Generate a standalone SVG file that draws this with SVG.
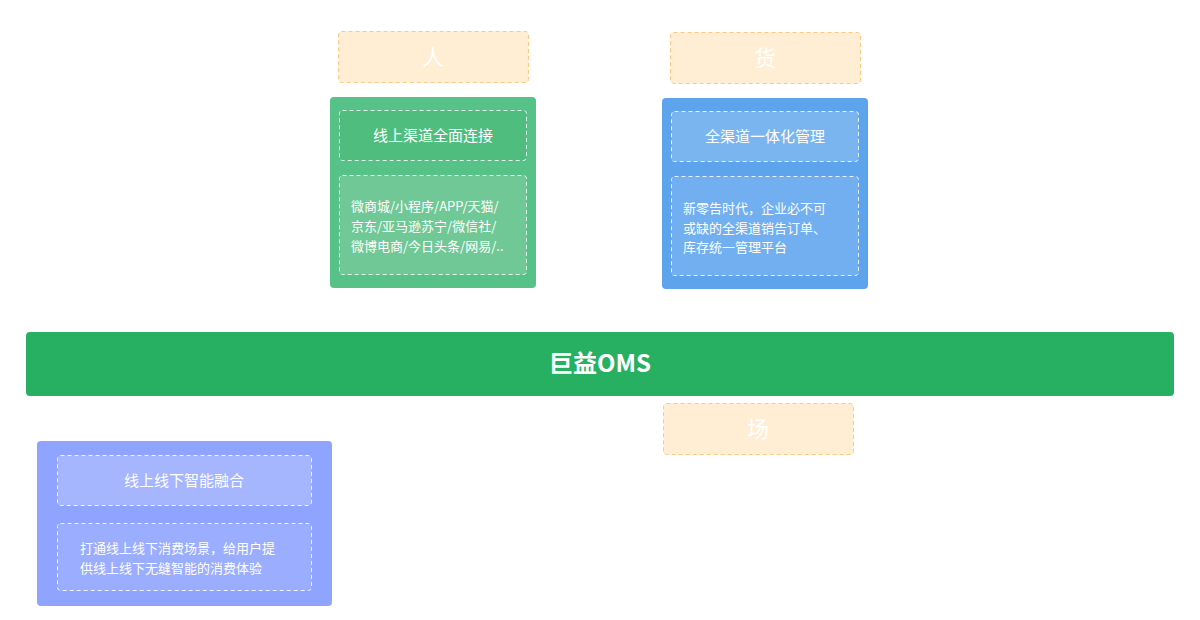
<svg xmlns="http://www.w3.org/2000/svg" width="1200" height="620" viewBox="0 0 1200 620">
<style>
text{font-family:"Noto Sans CJK SC","Liberation Sans",sans-serif;fill:#fff;}
.tag{fill:#ffedd4;stroke:#ffc880;stroke-dasharray:4 3;stroke-width:1}
.in{stroke:#fff;stroke-opacity:.85;stroke-dasharray:4 3;stroke-width:1}
.t{font-size:22px;text-anchor:middle}
.h{font-size:15px;text-anchor:middle}
.d{font-size:13px}
</style>
<rect width="1200" height="620" fill="#fff"/>
<g id="tag-ren"><rect class="tag" x="338.5" y="31.5" width="190" height="51" rx="3"/><text class="t" x="433" y="65">人</text></g>
<g id="tag-huo"><rect class="tag" x="670.5" y="32.5" width="190" height="51" rx="3"/><text class="t" x="765" y="66">货</text></g>
<g id="tag-chang"><rect class="tag" x="663.5" y="403.5" width="190" height="51" rx="3"/><text class="t" x="758" y="437">场</text></g>
<g id="card-ren">
<rect x="330" y="97" width="206" height="191" rx="4" fill="#57c287"/>
<rect class="in" x="339.5" y="110.5" width="187" height="50" rx="3" fill="#4fbd7e"/>
<text class="h" x="433" y="141">线上渠道全面连接</text>
<rect class="in" x="339.5" y="175.5" width="187" height="99" rx="3" fill="#70c896"/>
<text class="d" x="351" y="211">微商城/小程序/APP/天猫/</text>
<text class="d" x="351" y="231">京东/亚马逊苏宁/微信社/</text>
<text class="d" x="351" y="251">微博电商/今日头条/网易/..</text>
</g>
<g id="card-huo">
<rect x="662" y="98" width="206" height="191" rx="4" fill="#5ea4ec"/>
<rect class="in" x="671.5" y="111.5" width="187" height="50" rx="3" fill="#7bb5f0"/>
<text class="h" x="765" y="142">全渠道一体化管理</text>
<rect class="in" x="671.5" y="176.5" width="187" height="99" rx="3" fill="#72aff0"/>
<text class="d" x="683" y="213">新零告时代，企业必不可</text>
<text class="d" x="683" y="233">或缺的全渠道销告订单、</text>
<text class="d" x="683" y="252">库存统一管理平台</text>
</g>
<g id="oms">
<rect x="26" y="332" width="1148" height="64" rx="4" fill="#28b062"/>
<text x="600" y="372" font-size="24" font-weight="bold" text-anchor="middle">巨益OMS</text>
</g>
<g id="card-chang">
<rect x="37" y="441" width="295" height="165" rx="4" fill="#8fa4fe"/>
<rect class="in" x="57.5" y="455.5" width="254" height="50" rx="3" fill="#a5b5fe"/>
<text class="h" x="184" y="486">线上线下智能融合</text>
<rect class="in" x="57.5" y="523.5" width="254" height="67" rx="3" fill="#9badfe"/>
<text class="d" x="80" y="553">打通线上线下消费场景，给用户提</text>
<text class="d" x="80" y="573">供线上线下无缝智能的消费体验</text>
</g>
<g id="connectors"></g>
</svg>
